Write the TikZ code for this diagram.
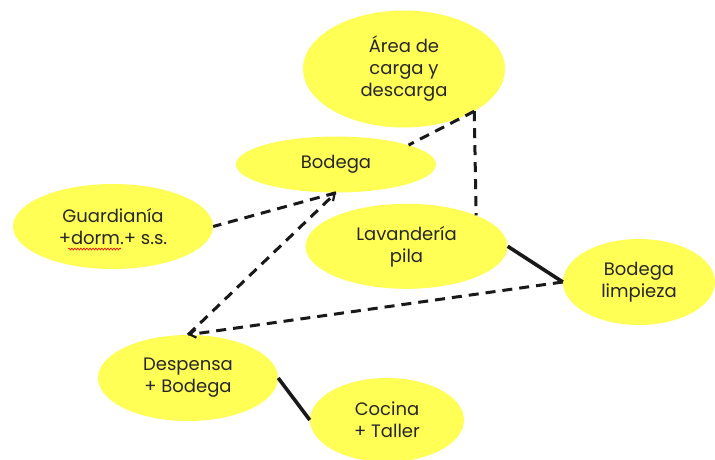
\documentclass[tikz,border=0pt]{standalone}
\usepackage{fontspec}
\setmainfont{Poppins}
\usetikzlibrary{shapes.geometric,arrows.meta,decorations.pathmorphing}
\definecolor{ylw}{RGB}{255,255,85}
\begin{document}
\begin{tikzpicture}[x=1pt,y=-1pt,
  blob/.style={ellipse, fill=ylw, inner sep=0pt, align=center,
    font=\fontsize{18}{22}\selectfont, text=black!85},
  dashln/.style={line width=3pt, dash pattern=on 10pt off 7pt, black!90},
  solidln/.style={line width=3.6pt, black!90},
  barb/.style={-{Straight Barb[length=6pt,width=8pt,line width=2.2pt]}},
  squig/.style={red, line width=0.6pt, decorate,
    decoration={snake, amplitude=1pt, segment length=3pt}}
]
\useasboundingbox (0,0) rectangle (715,460);
\node[blob, minimum width=202pt, minimum height=117pt] (area) at (404,69) {Área de\\carga y\\descarga};
\node[blob, minimum width=200pt, minimum height=56pt] (bod) at (336,164.5) {Bodega};
\node[blob, minimum width=200pt, minimum height=85pt] (guard) at (113,226.5) {Guardianía\\+dorm.+ s.s.};
\node[blob, minimum width=202pt, minimum height=85pt] (lav) at (406.5,246.3) {Lavandería\\pila};
\node[blob, minimum width=152pt, minimum height=86pt] (limp) at (639,282) {Bodega\\limpieza};
\node[blob, minimum width=180pt, minimum height=86pt] (desp) at (188,378) {Despensa\\+ Bodega};
\node[blob, minimum width=154pt, minimum height=84pt] (coc) at (387,420) {Cocina\\+ Taller};
\coordinate (sqa) at (68,249);
\coordinate (sqb) at (121,249);
\draw[squig] (sqa) -- (sqb);
\draw[dashln] (area.-31) -- (bod.15);
\draw[dashln] (area.-31) -- (lav.24);
\draw[dashln] (bod.south) -- (guard.east);
\draw[dashln, barb] (desp.north) -- (bod.south);
\draw[dashln, barb] (limp.west) -- (desp.north);
\draw[solidln] (lav.east) -- (limp.west);
\draw[solidln] (desp.east) -- (coc.west);
\end{tikzpicture}
\end{document}
